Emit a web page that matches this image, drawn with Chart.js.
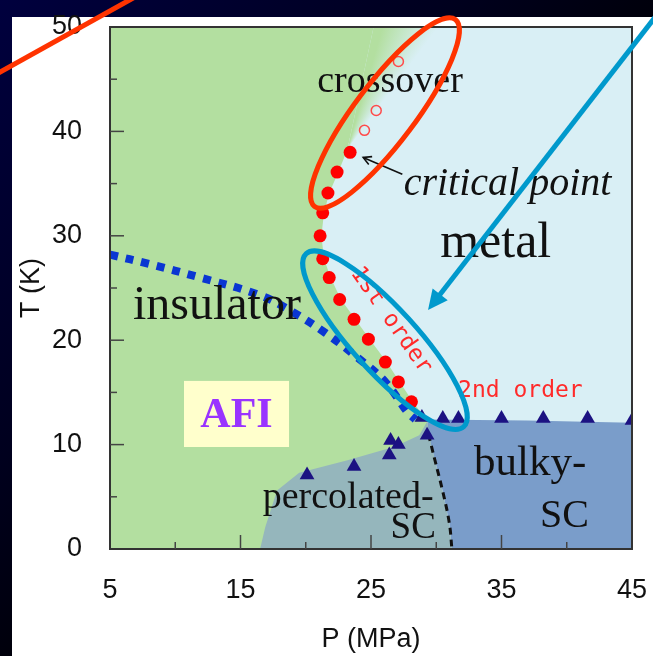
<!DOCTYPE html>
<html>
<head>
<meta charset="utf-8">
<script src="https://cdn.jsdelivr.net/npm/chart.js@4.4.1/dist/chart.umd.min.js"></script>
<style>
  html, body { margin: 0; padding: 0; width: 653px; height: 656px; overflow: hidden;
    background: linear-gradient(to bottom right, #00003e 0%, #00001e 35%, #000000 60%); }
  #panel { position: absolute; left: 12px; top: 17px; right: 0; bottom: 0; background: #fff; }
  #wrap { position: absolute; left: 0; top: 0; width: 653px; height: 656px; }
</style>
</head>
<body>
<div id="panel"></div>
<div id="wrap"><canvas id="c" width="653" height="656"></canvas></div>
<script>
// tick labels
const pTicks = [5, 15, 25, 35, 45];
const tTicks = [0, 10, 20, 30, 40, 50];

// phase regions (P in MPa, T in K)
const metalP = [5, 45, 45, 5, 5];
const metalT = [0, 0, 50, 50, 0];
const insulatorP = [5, 5, 25.2, 23.2, 22.5, 21.8, 21.4, 21.2, 21.4, 21.9, 22.7, 23.8, 24.9, 26.2, 27.2, 28.2, 29.3, 31.2, 5];
const insulatorT = [0, 50, 50, 38.3, 36.1, 34.1, 32.2, 30.0, 27.8, 26.0, 23.9, 22.0, 20.1, 17.9, 16.0, 14.1, 12.3, 0, 0];
const crossoverZoneP = [23.2, 25.2, 30.5, 23.2];
const crossoverZoneT = [38.3, 50, 50, 38.3];
const percolatedP = [16.5, 16.9, 17.8, 19.5, 23.2, 26.8, 28.7, 29.3, 29.4, 29.9, 30.5, 31.0, 31.2, 16.5];
const percolatedT = [0, 2.1, 5.6, 7.3, 8.5, 9.8, 10.9, 12.2, 11.0, 8.5, 5.5, 2.5, 0, 0];
const bulkyP = [29.3, 37, 45, 45, 31.2, 31.0, 30.5, 29.9, 29.4, 29.3];
const bulkyT = [12.4, 12.3, 12.1, 0, 0, 2.5, 5.5, 8.5, 11.0, 12.4];

// AFI boundary (dotted) and SC boundary (dashed)
const afiP = [5, 8, 11.9, 16.5, 19.0, 21.5, 23.9, 26.1, 27.8, 28.4];
const afiT = [28.2, 27.3, 26.0, 24.3, 22.7, 20.7, 18.4, 16.0, 13.1, 12.4];
const scLineP = [29.4, 29.9, 30.5, 31.0, 31.2];
const scLineT = [11.0, 8.5, 5.5, 2.5, 0];

// measured points
const firstOrderP = [23.4, 22.4, 21.7, 21.3, 21.1, 21.3, 21.8, 22.6, 23.7, 24.8, 26.1, 27.1, 28.1];
const firstOrderT = [38.0, 36.1, 34.1, 32.2, 30.0, 27.8, 26.0, 23.9, 22.0, 20.1, 17.9, 16.0, 14.1];
const crossoverP = [24.5, 25.4, 27.1];
const crossoverT = [40.1, 42.0, 46.7];
const tcP = [20.1, 23.7, 26.4, 26.5, 27.1, 29.3, 28.9, 30.5, 31.7, 35.0, 38.2, 41.6, 45.0];
const tcT = [7.1, 7.9, 9.0, 10.4, 10.0, 10.9, 12.6, 12.5, 12.5, 12.5, 12.5, 12.5, 12.3];

const GREEN = '#b3dfa0';
const METAL = '#d9eff5';

const xy = (P, T) => P.map((p, i) => ({ x: p, y: T[i] }));

function region(label, P, T, color, order) {
    return {
        type: 'line', label: label, data: xy(P, T), fill: 'shape',
        backgroundColor: color, borderWidth: 0, pointRadius: 0, tension: 0, order: order
    };
}

// fade from insulator green to metal blue, centred on the critical point
function crossoverFill(ctx) {
    const chart = ctx.chart;
    const xs = chart.scales.x, ys = chart.scales.y;
    if (!chart.chartArea || !xs || !ys) return GREEN;
    const cx = xs.getPixelForValue(crossoverZoneP[0]), cy = ys.getPixelForValue(crossoverZoneT[0]);
    const aL = Math.atan2(ys.getPixelForValue(crossoverZoneT[1]) - cy, xs.getPixelForValue(crossoverZoneP[1]) - cx);
    const aR = Math.atan2(ys.getPixelForValue(crossoverZoneT[2]) - cy, xs.getPixelForValue(crossoverZoneP[2]) - cx);
    const c = chart.ctx;
    if (!c.createConicGradient) return GREEN;
    const g = c.createConicGradient(aL, cx, cy);
    const span = (aR - aL) / (2 * Math.PI);
    g.addColorStop(0, GREEN);
    g.addColorStop(span * 0.15, GREEN);
    g.addColorStop(span * 0.95, METAL);
    g.addColorStop(0.99, METAL);
    g.addColorStop(1, GREEN);
    return g;
}

// text labels, positions in data units
const textLabels = [
    { text: 'crossover', p: 26.46, t: 43.8, font: '38px "Liberation Serif"', color: '#111', align: 'center' },
    { text: 'critical point', p: 27.5, t: 33.9, font: 'italic 40px "Liberation Serif"', color: '#111', align: 'left' },
    { text: 'metal', p: 30.3, t: 28.0, font: '50px "Liberation Serif"', color: '#111', align: 'left' },
    { text: 'insulator', p: 6.76, t: 22.0, font: '48px "Liberation Serif"', color: '#111', align: 'left' },
    { text: 'percolated-', p: 16.7, t: 3.9, font: '38px "Liberation Serif"', color: '#111', align: 'left' },
    { text: 'SC', p: 26.5, t: 1.05, font: '37px "Liberation Serif"', color: '#111', align: 'left' },
    { text: 'bulky-', p: 32.9, t: 7.1, font: '43px "Liberation Serif"', color: '#111', align: 'left' },
    { text: 'SC', p: 37.95, t: 2.1, font: '40px "Liberation Serif"', color: '#111', align: 'left' },
    { text: '2nd order', p: 31.67, t: 15.1, font: '23px "DejaVu Sans Mono"', color: '#ff2a2a', align: 'left', baseline: 'middle' }
];

const labelPlugin = {
    id: 'labels',
    afterDatasetsDraw(chart) {
        const c = chart.ctx, xs = chart.scales.x, ys = chart.scales.y, a = chart.chartArea;
        c.save();
        // frame
        c.strokeStyle = '#333';
        c.lineWidth = 2;
        c.strokeRect(a.left, a.top, a.right - a.left, a.bottom - a.top);
        // inward ticks
        c.lineWidth = 1.5;
        c.strokeStyle = '#444';
        for (let v = 5; v < 50; v += 5) {
            const y = ys.getPixelForValue(v), len = v % 10 === 0 ? 14 : 7;
            c.beginPath(); c.moveTo(a.left, y); c.lineTo(a.left + len, y); c.stroke();
        }
        for (let v = 10; v < 45; v += 5) {
            const x = xs.getPixelForValue(v), len = v % 10 === 5 ? 14 : 7;
            c.beginPath(); c.moveTo(x, a.bottom); c.lineTo(x, a.bottom - len); c.stroke();
        }
        // AFI box
        const bx0 = xs.getPixelForValue(10.67), bx1 = xs.getPixelForValue(18.72);
        const by0 = ys.getPixelForValue(16.1), by1 = ys.getPixelForValue(9.77);
        c.fillStyle = '#ffffcc';
        c.fillRect(bx0, by0, bx1 - bx0, by1 - by0);
        c.fillStyle = '#9933ff';
        c.font = 'bold 42px "Liberation Serif"';
        c.textAlign = 'center';
        c.textBaseline = 'middle';
        c.fillText('AFI', (bx0 + bx1) / 2, (by0 + by1) / 2 + 2);
        // texts
        textLabels.forEach(l => {
            c.font = l.font;
            c.fillStyle = l.color;
            c.textAlign = l.align;
            c.textBaseline = l.baseline || 'alphabetic';
            c.fillText(l.text, xs.getPixelForValue(l.p), ys.getPixelForValue(l.t));
        });
        // rotated "1st order"
        c.save();
        c.translate(xs.getPixelForValue(26.53), ys.getPixelForValue(21.9));
        c.rotate(55 * Math.PI / 180);
        c.font = '23px "DejaVu Sans Mono"';
        c.fillStyle = '#ff2a2a';
        c.textAlign = 'center';
        c.textBaseline = 'middle';
        c.fillText('1st order', 0, 0);
        c.restore();
        // small arrow to the critical point
        arrow(c, xs.getPixelForValue(27.4), ys.getPixelForValue(35.9), xs.getPixelForValue(24.4), ys.getPixelForValue(37.5), '#111', 1.6, 9, false);
        c.restore();
    },
    afterDraw(chart) {
        const c = chart.ctx, xs = chart.scales.x, ys = chart.scales.y;
        c.save();
        c.lineWidth = 5;
        // red ellipse around the critical end point
        c.strokeStyle = '#ff3300';
        c.beginPath();
        c.ellipse(xs.getPixelForValue(26.07), ys.getPixelForValue(41.76), 117, 30, -53 * Math.PI / 180, 0, 2 * Math.PI);
        c.stroke();
        // blue ellipse around the first-order line
        c.strokeStyle = '#0099cc';
        c.beginPath();
        c.ellipse(xs.getPixelForValue(26.07), ys.getPixelForValue(20.0), 117, 32, 47.7 * Math.PI / 180, 0, 2 * Math.PI);
        c.stroke();
        // call-out lines
        c.strokeStyle = '#ff3300';
        c.beginPath(); c.moveTo(-5, 75); c.lineTo(135, -3); c.stroke();
        arrow(c, 680, -15, xs.getPixelForValue(29.37), ys.getPixelForValue(22.9), '#0099cc', 5, 22, true);
        c.restore();
    }
};

function arrow(c, x0, y0, x1, y1, color, width, head, filled) {
    const ang = Math.atan2(y1 - y0, x1 - x0);
    c.save();
    c.strokeStyle = color;
    c.fillStyle = color;
    c.lineWidth = width;
    c.beginPath();
    c.moveTo(x0, y0);
    c.lineTo(filled ? x1 - Math.cos(ang) * head * 0.6 : x1, filled ? y1 - Math.sin(ang) * head * 0.6 : y1);
    c.stroke();
    const w = filled ? 0.45 : 0.5;
    c.beginPath();
    c.moveTo(x1 - head * Math.cos(ang - w), y1 - head * Math.sin(ang - w));
    c.lineTo(x1, y1);
    c.lineTo(x1 - head * Math.cos(ang + w), y1 - head * Math.sin(ang + w));
    if (filled) { c.closePath(); c.fill(); } else { c.stroke(); }
    c.restore();
}

const tickFont = { family: 'Liberation Sans', size: 27 };

new Chart(document.getElementById('c'), {
    type: 'scatter',
    data: {
        datasets: [
            region('metal', metalP, metalT, METAL, 20),
            region('insulator', insulatorP, insulatorT, GREEN, 19),
            region('crossover zone', crossoverZoneP, crossoverZoneT, crossoverFill, 18),
            region('bulky-SC', bulkyP, bulkyT, '#7a9dca', 17),
            region('percolated-SC', percolatedP, percolatedT, '#95b6bc', 16),
            {
                type: 'line', label: 'AFI boundary', data: xy(afiP, afiT), borderColor: '#0a36d2',
                borderWidth: 8, borderDash: [8, 8], borderCapStyle: 'butt', pointRadius: 0, tension: 0.4,
                fill: false, order: 5
            },
            {
                type: 'line', label: 'SC boundary', data: xy(scLineP, scLineT), borderColor: '#111',
                borderWidth: 3, borderDash: [7, 5], pointRadius: 0, tension: 0.4, fill: false, order: 4
            },
            {
                label: 'Tc', data: xy(tcP, tcT), pointStyle: 'triangle', pointRadius: 8.5,
                backgroundColor: '#1c1282', borderColor: '#1c1282', borderWidth: 0, order: 3
            },
            {
                label: '1st order', data: xy(firstOrderP, firstOrderT), pointRadius: 6.5,
                backgroundColor: '#ff0000', borderColor: '#ff0000', borderWidth: 0, order: 2
            },
            {
                label: 'crossover', data: xy(crossoverP, crossoverT), pointRadius: 5,
                backgroundColor: 'rgba(0,0,0,0)', borderColor: '#ff4a4a', borderWidth: 1.5, order: 1
            }
        ]
    },
    options: {
        responsive: false,
        animation: false,
        events: [],
        layout: { padding: { top: 27, right: 21, left: 0, bottom: 0 } },
        plugins: { legend: { display: false }, tooltip: { enabled: false } },
        scales: {
            x: {
                type: 'linear', min: 5, max: 45,
                afterBuildTicks: s => { s.ticks = pTicks.map(v => ({ value: v })); },
                afterFit: s => { s.height = 107; s.paddingLeft = 0; s.paddingRight = 0; },
                grid: { display: false }, border: { display: false },
                ticks: { color: '#111', font: tickFont, padding: 17, maxRotation: 0, autoSkip: false },
                title: { display: true, text: 'P (MPa)', color: '#111', font: tickFont, padding: { top: 13, bottom: 0 } }
            },
            y: {
                type: 'linear', min: 0, max: 50,
                afterBuildTicks: s => { s.ticks = tTicks.map(v => ({ value: v })); },
                afterFit: s => { s.width = 110; s.paddingTop = 0; s.paddingBottom = 0; },
                grid: { display: false }, border: { display: false },
                ticks: { color: '#111', font: tickFont, padding: 20, autoSkip: false },
                title: { display: true, text: 'T (K)', color: '#111', font: tickFont, padding: { top: 15, bottom: 0 } }
            }
        }
    },
    plugins: [labelPlugin]
});
</script>
</body>
</html>
